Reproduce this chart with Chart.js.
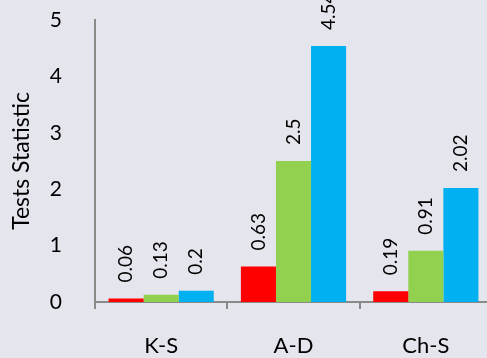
<!DOCTYPE html>
<html>
<head>
<meta charset="utf-8">
<script src="https://cdn.jsdelivr.net/npm/chart.js@4/dist/chart.umd.min.js"></script>
<style>
html,body{margin:0;padding:0;overflow:hidden;background:#e5e5ed;}
#wrap{position:absolute;left:0;top:0;width:493px;height:358px;}
</style>
</head>
<body>
<div id="wrap"><canvas id="c" width="493" height="358"></canvas></div>
<script>
const categories = ["K-S", "A-D", "Ch-S"];
const seriesA = [0.06, 0.63, 0.19];
const seriesB = [0.13, 2.5, 0.91];
const seriesC = [0.2, 4.54, 2.02];
const yTicks = [0, 1, 2, 3, 4, 5];

const FONT = "Lato, 'Open Sans', sans-serif";

const labelPlugin = {
  id: 'rotLabels',
  afterDatasetsDraw(chart) {
    const ctx = chart.ctx;
    ctx.save();
    ctx.fillStyle = '#000';
    ctx.font = '19px ' + FONT;
    ctx.textAlign = 'left';
    ctx.textBaseline = 'middle';
    chart.data.datasets.forEach((ds, di) => {
      const meta = chart.getDatasetMeta(di);
      meta.data.forEach((bar, i) => {
        ctx.save();
        ctx.translate(bar.x, bar.y - 16);
        ctx.rotate(-Math.PI / 2);
        ctx.fillText(String(ds.data[i]), 0, 0);
        ctx.restore();
      });
    });
    ctx.restore();
  }
};

new Chart(document.getElementById('c'), {
  type: 'bar',
  data: {
    labels: categories,
    datasets: [
      { data: seriesA, backgroundColor: '#ff0000' },
      { data: seriesB, backgroundColor: '#92d050' },
      { data: seriesC, backgroundColor: '#00b0f0' }
    ]
  },
  options: {
    responsive: false,
    animation: false,
    events: [],
    layout: { padding: { top: 20, right: 1, left: 0, bottom: 0 } },
    plugins: { legend: { display: false }, tooltip: { enabled: false } },
    datasets: { bar: { categoryPercentage: 0.795, barPercentage: 1.0 } },
    scales: {
      x: {
        grid: { display: true, offset: true, drawOnChartArea: false, drawTicks: true, tickLength: 7, color: '#8a8a8a', lineWidth: 2 },
        border: { display: true, color: '#8a8a8a', width: 2 },
        ticks: { color: '#000', font: { family: FONT, size: 22 }, padding: 24 },
        afterFit(s) { s.height = 56; s.paddingLeft = 0; s.paddingRight = 0; }
      },
      y: {
        min: 0, max: 5,
        afterBuildTicks(s) { s.ticks = yTicks.map(v => ({ value: v })); },
        grid: { display: false },
        border: { display: true, color: '#8a8a8a', width: 2 },
        ticks: { color: '#000', font: { family: FONT, size: 21 }, padding: 25 },
        title: { display: true, text: 'Tests Statistic', color: '#000', font: { family: FONT, size: 23 }, padding: { top: 8, bottom: 4 } },
        afterFit(s) { s.width = 95; s.paddingTop = 0; s.paddingBottom = 0; }
      }
    }
  },
  plugins: [labelPlugin]
});
</script>
</body>
</html>
